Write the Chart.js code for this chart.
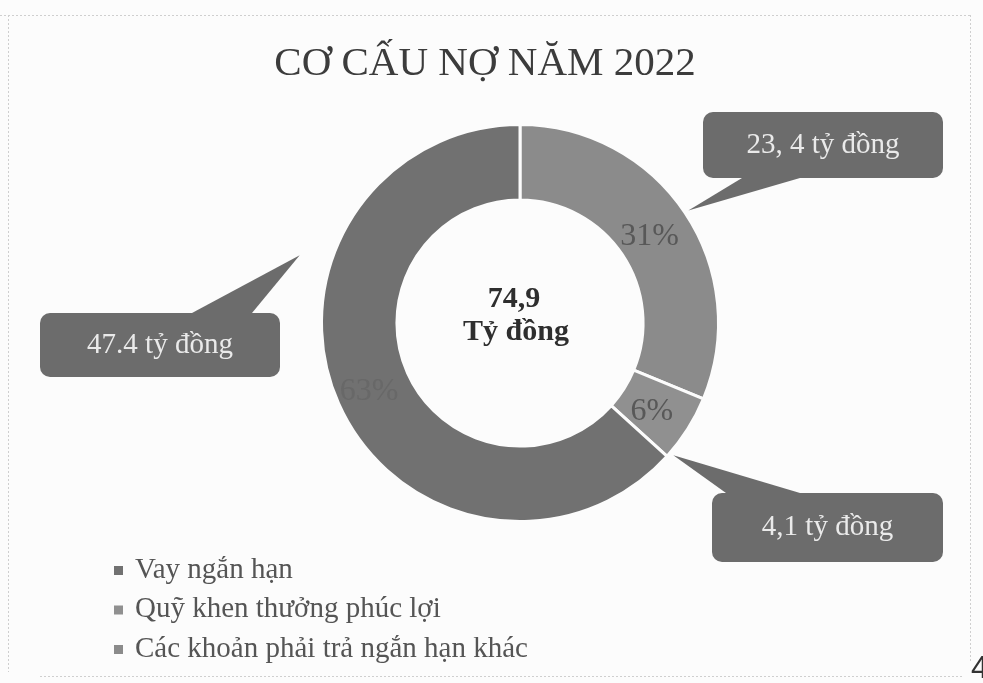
<!DOCTYPE html>
<html>
<head>
<meta charset="utf-8">
<script src="https://cdn.jsdelivr.net/npm/chart.js@4"></script>
<style>
  body { margin: 0; background: #fcfcfc; }
  #wrap { position: relative; width: 983px; height: 683px; }
</style>
</head>
<body>
<div id="wrap"><canvas id="debtChart"></canvas></div>
<script>
// Data (clockwise from 12 o'clock, as in the picture)
const labels = ['Các khoản phải trả ngắn hạn khác', 'Quỹ khen thưởng phúc lợi', 'Vay ngắn hạn'];
const values = [23.4, 4.1, 47.4];
const percentLabels = ['31%', '6%', '63%'];
const calloutLabels = ['23, 4 tỷ đồng', '4,1 tỷ đồng', '47.4 tỷ đồng'];
const sliceColors = ['#8b8b8b', '#909090', '#717171'];
const legendOrder = [2, 1, 0];
const titleText = 'CƠ CẤU NỢ NĂM 2022';
const centerLines = ['74,9', 'Tỷ đồng'];

// callout boxes: [x, y, w, h], base of pointer, where the tip sits on the arc
const callouts = [
  { box: [703, 112, 240, 66], base: [[742, 178], [800, 178]], frac: 0.5, dr: 4 },
  { box: [712, 493, 231, 69], base: [[726, 493], [800, 493]], frac: 0.93, dr: 4 },
  { box: [40, 313, 240, 64], base: [[192, 313], [252, 313]], frac: 0.68, dr: 32 }
];

const serif = '"Liberation Serif", "Times New Roman", serif';

const decorPlugin = {
  id: 'decor',
  beforeDraw(chart) {
    const c = chart.ctx;
    c.save();
    // faint scanned page border
    c.strokeStyle = '#cfcfcf';
    c.lineWidth = 1;
    c.setLineDash([2, 2]);
    c.beginPath();
    c.moveTo(0, 15.5); c.lineTo(970, 15.5);
    c.moveTo(8.5, 15); c.lineTo(8.5, 672);
    c.moveTo(970.5, 15); c.lineTo(970.5, 663);
    c.moveTo(40, 676.5); c.lineTo(962, 676.5);
    c.stroke();
    c.restore();
  },
  afterDraw(chart) {
    const c = chart.ctx;
    const arcs = chart.getDatasetMeta(0).data;
    c.save();

    // title
    c.fillStyle = '#3c3c3c';
    c.font = '41px ' + serif;
    c.textAlign = 'center';
    c.textBaseline = 'alphabetic';
    c.fillText(titleText, 485, 75);

    // centre text
    const cx = arcs[0].x;
    c.fillStyle = '#2e2e2e';
    c.font = 'bold 30px ' + serif;
    c.fillText(centerLines[0], cx - 6, 307);
    c.fillText(centerLines[1], cx - 4, 340);

    // percent labels in the ring
    c.font = '32px ' + serif;
    c.textBaseline = 'middle';
    arcs.forEach((arc, i) => {
      const p = arc.getProps(['x', 'y', 'startAngle', 'endAngle', 'innerRadius', 'outerRadius'], true);
      const a = (p.startAngle + p.endAngle) / 2;
      const r = (p.innerRadius + p.outerRadius) / 2;
      c.fillStyle = i === 2 ? '#686868' : '#585858';
      c.fillText(percentLabels[i], p.x + Math.cos(a) * r - 4, p.y + Math.sin(a) * r + 3);
    });

    // callouts
    arcs.forEach((arc, i) => {
      const p = arc.getProps(['x', 'y', 'startAngle', 'endAngle', 'outerRadius'], true);
      const co = callouts[i];
      const a = p.startAngle + (p.endAngle - p.startAngle) * co.frac;
      const r = p.outerRadius + co.dr;
      const tx = p.x + Math.cos(a) * r, ty = p.y + Math.sin(a) * r;
      c.fillStyle = '#6c6c6c';
      c.beginPath();
      c.moveTo(co.base[0][0], co.base[0][1]);
      c.lineTo(tx, ty);
      c.lineTo(co.base[1][0], co.base[1][1]);
      c.closePath();
      c.fill();
      const [bx, by, bw, bh] = co.box;
      c.beginPath();
      c.roundRect(bx, by, bw, bh, 10);
      c.fill();
      c.fillStyle = '#eaeaea';
      c.font = '29px ' + serif;
      c.textAlign = 'center';
      c.textBaseline = 'middle';
      c.fillText(calloutLabels[i], bx + bw / 2, by + bh / 2);
    });

    // legend
    c.textAlign = 'left';
    c.font = '29px ' + serif;
    legendOrder.forEach((idx, row) => {
      const y = 570 + row * 39.5;
      c.fillStyle = sliceColors[idx];
      c.fillRect(114, y - 4, 9, 9);
      c.fillStyle = '#555555';
      c.fillText(labels[idx], 135, y);
    });

    // page number
    c.fillStyle = '#333333';
    c.font = '31px "Liberation Sans", Arial, sans-serif';
    c.textBaseline = 'alphabetic';
    c.fillText('4', 971, 678);
    c.restore();
  }
};

new Chart(document.getElementById('debtChart'), {
  type: 'doughnut',
  data: {
    labels: labels,
    datasets: [{
      data: values,
      backgroundColor: sliceColors,
      borderColor: '#fcfcfc',
      borderWidth: 3
    }]
  },
  options: {
    responsive: true,
    maintainAspectRatio: false,
    animation: false,
    cutout: '62%',
    layout: { padding: { left: 320, right: 263, top: 123, bottom: 160 } },
    plugins: {
      legend: { display: false },
      tooltip: { enabled: false }
    }
  },
  plugins: [decorPlugin]
});
</script>
</body>
</html>
